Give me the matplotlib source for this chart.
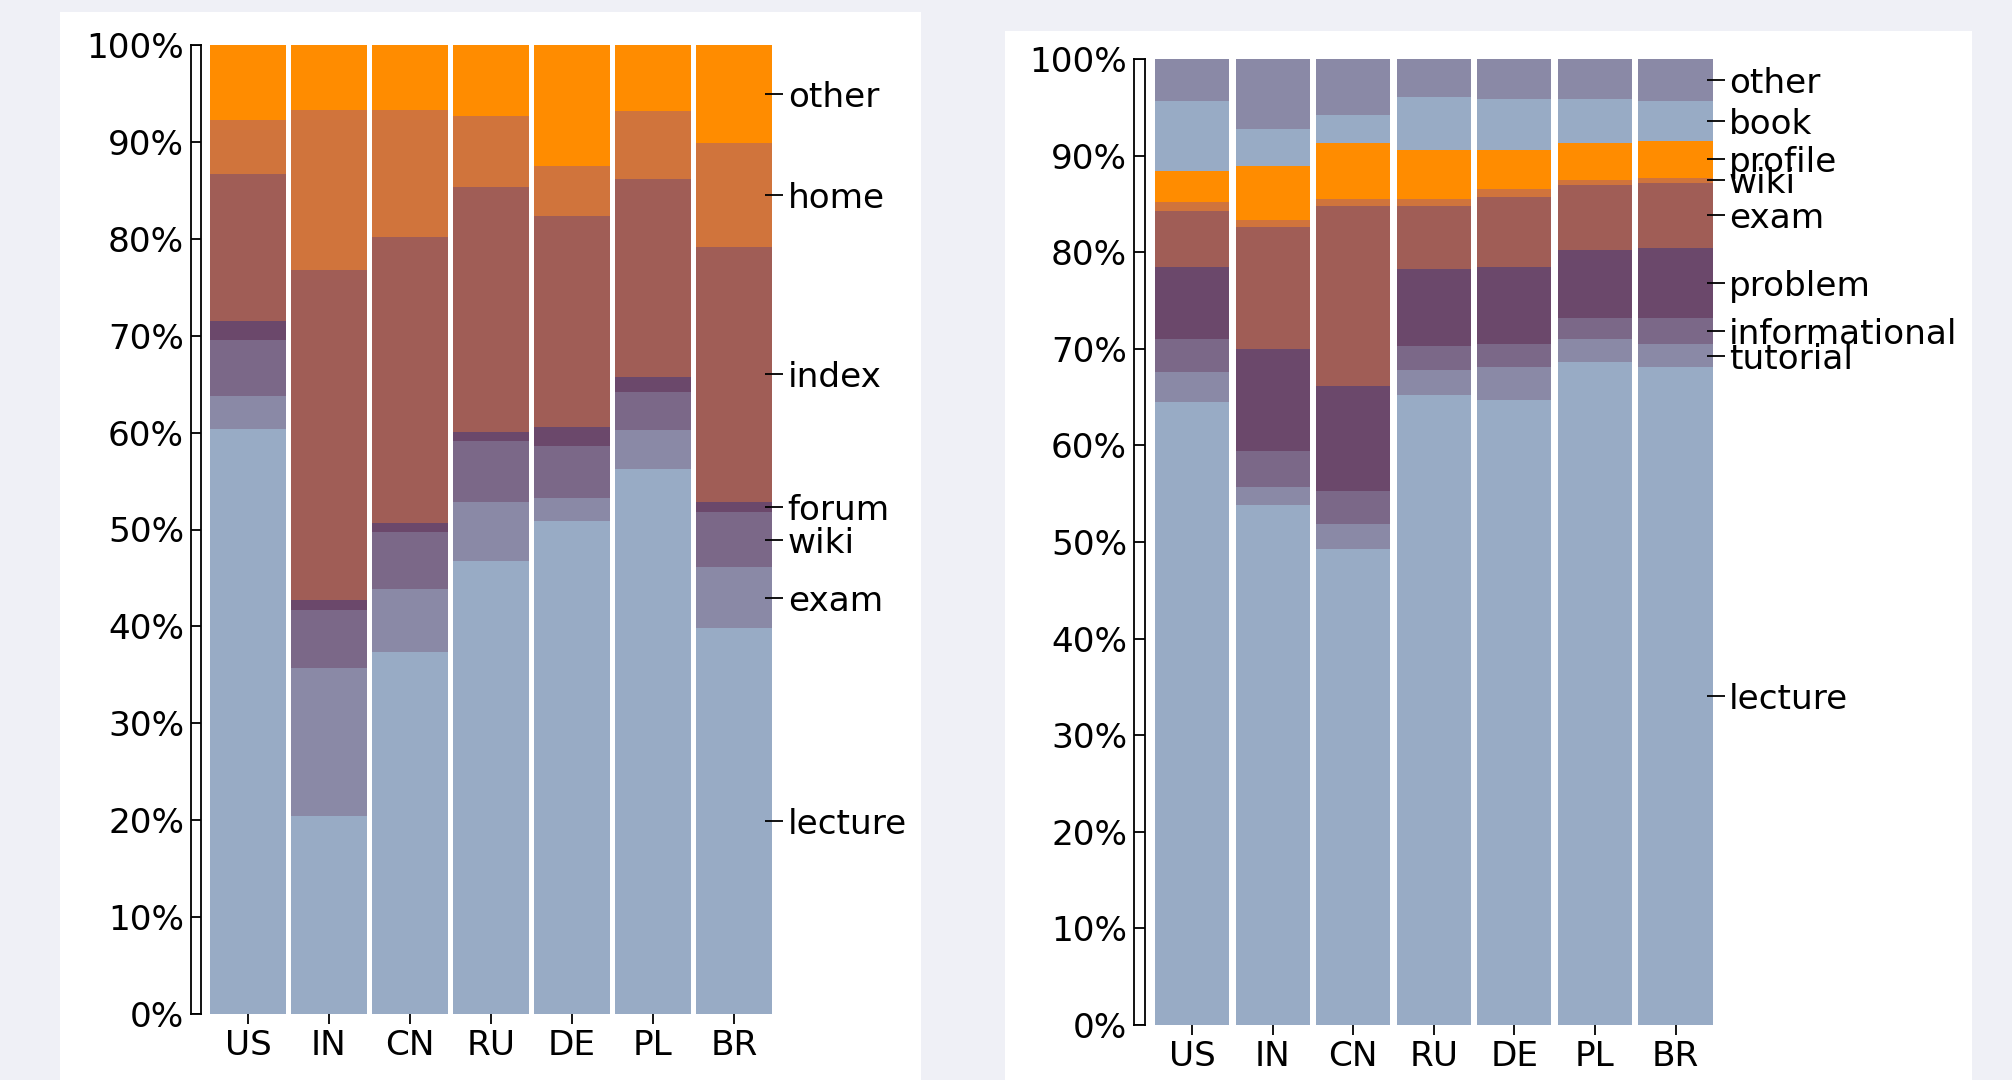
import numpy as np
import matplotlib.pyplot as plt
from matplotlib.patches import Rectangle

W, H = 2012, 1080
FS = 24.7

countries = ['US', 'IN', 'CN', 'RU', 'DE', 'PL', 'BR']
palette = ["#98abc5", "#8a89a6", "#7b6888", "#6b486b", "#a05d56", "#d0743c", "#ff8c00"]

# left chart: share of visits per page type (%)
left_names = ['lecture', 'exam', 'wiki', 'forum', 'index', 'home', 'other']
left_lecture = [60.4, 20.4, 37.4, 46.8, 50.9, 56.2, 39.8]
left_exam = [3.4, 15.3, 6.5, 6.0, 2.4, 4.1, 6.3]
left_wiki = [5.8, 6.0, 5.8, 6.3, 5.3, 3.9, 5.7]
left_forum = [1.9, 1.0, 1.0, 1.0, 2.0, 1.5, 1.0]
left_index = [15.2, 34.1, 29.5, 25.2, 21.8, 20.5, 26.4]
left_home = [5.6, 16.5, 13.1, 7.4, 5.1, 7.0, 10.7]
left_other = [7.7, 6.7, 6.7, 7.3, 12.5, 6.8, 10.1]

# right chart
right_names = ['lecture', 'tutorial', 'informational', 'problem', 'exam',
               'wiki', 'profile', 'book', 'other']
right_lecture = [64.5, 53.8, 49.3, 65.2, 64.7, 68.6, 68.1]
right_tutorial = [3.1, 1.9, 2.6, 2.6, 3.4, 2.4, 2.4]
right_informational = [3.4, 3.7, 3.4, 2.5, 2.4, 2.2, 2.7]
right_problem = [7.5, 10.6, 10.9, 8.0, 8.0, 7.0, 7.2]
right_exam = [5.8, 12.6, 18.6, 6.5, 7.2, 6.8, 6.8]
right_wiki = [0.9, 0.7, 0.7, 0.7, 0.8, 0.5, 0.5]
right_profile = [3.2, 5.6, 5.8, 5.1, 4.1, 3.8, 3.8]
right_book = [7.3, 3.9, 2.9, 5.5, 5.3, 4.6, 4.2]
right_other = [4.3, 7.2, 5.8, 3.9, 4.1, 4.1, 4.3]

pct_ticks = list(range(0, 101, 10))
pct_labels = ['%d%%' % t for t in pct_ticks]

fig = plt.figure(figsize=(W / 100, H / 100), dpi=100, facecolor='#eff0f6')


def px_axes(l, t, r, b):
    return fig.add_axes([l / W, 1 - b / H, (r - l) / W, (b - t) / H])


def panel_bg(l, t, r, b):
    fig.add_artist(Rectangle((l / W, 1 - b / H), (r - l) / W, (b - t) / H,
                             transform=fig.transFigure, facecolor='white',
                             edgecolor='none', zorder=0))


def draw(ax, lad, names, series, width):
    x = np.arange(len(countries))
    bottom = np.zeros(len(countries))
    for i, vals in enumerate(series):
        vals = np.array(vals)
        ax.bar(x, vals, width=width, bottom=bottom, color=palette[i % 7], linewidth=0)
        bottom += vals
    # labels at the middle of each segment of the last bar
    last = np.array([s[-1] for s in series])
    mids = np.cumsum(last) - last / 2

    ax.set_xlim(-0.5, 6.5)
    ax.set_ylim(0, 100)
    for s in ax.spines.values():
        s.set_visible(False)
    ax.set_yticks([])
    ax.set_xticks(x, countries)
    ax.tick_params(axis='x', length=7, width=1.3, pad=3.5, labelsize=FS)
    ax.set_facecolor('none')

    tw = ax.twinx()
    tw.set_ylim(0, 100)
    for s in tw.spines.values():
        s.set_visible(False)
    tw.set_yticks(mids, names)
    tw.tick_params(axis='y', direction='inout', length=13, width=1.3, pad=3, labelsize=FS)

    lad.set_xlim(0, 1)
    lad.set_ylim(0, 100)
    lad.hlines(pct_ticks, 0, 1, color='black', lw=1.3)
    for s in lad.spines.values():
        s.set_linewidth(1.3)
    lad.set_xticks([])
    lad.set_yticks(pct_ticks, pct_labels)
    lad.tick_params(axis='y', length=0, pad=5, labelsize=FS)
    lad.set_facecolor('white')


panel_bg(60, 12, 921, 1080)
panel_bg(1005, 31, 1972, 1080)

ax1 = px_axes(207.5, 45, 774.5, 1014)
lad1 = px_axes(191, 45, 201, 1014)
draw(ax1, lad1, left_names,
     [left_lecture, left_exam, left_wiki, left_forum, left_index, left_home, left_other],
     0.926)

ax2 = px_axes(1151.7, 59, 1715.8, 1025)
lad2 = px_axes(1134, 59, 1145, 1025)
draw(ax2, lad2, right_names,
     [right_lecture, right_tutorial, right_informational, right_problem, right_exam,
      right_wiki, right_profile, right_book, right_other],
     0.92)

fig.savefig('out.png', dpi=100, facecolor=fig.get_facecolor())
